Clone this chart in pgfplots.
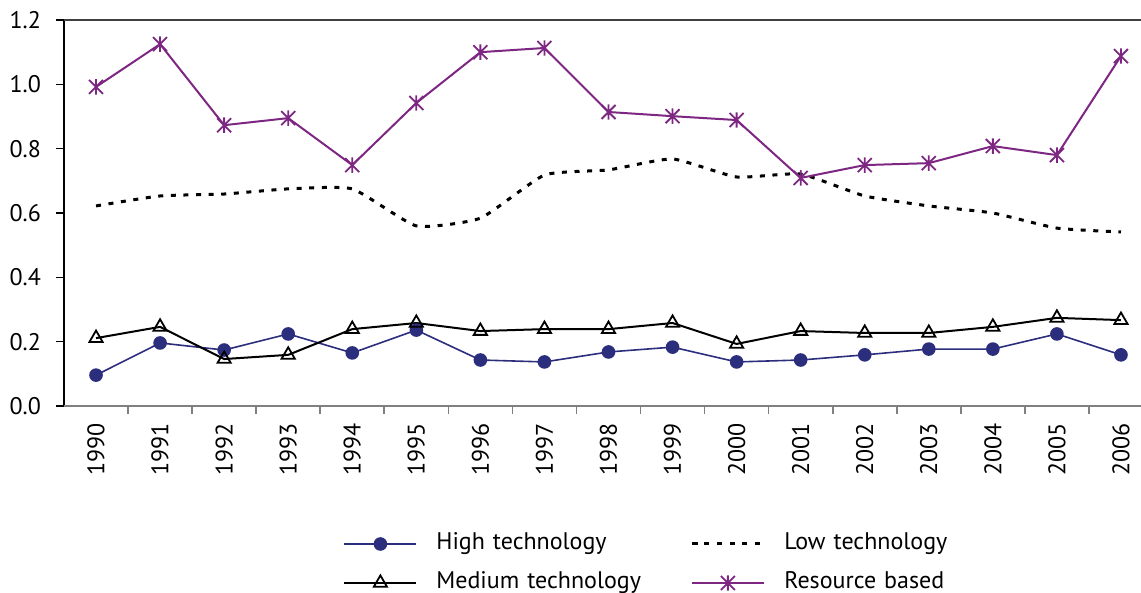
\documentclass[border=0pt]{standalone}
\usepackage{pgfplots}
\pgfplotsset{compat=1.18}
\usepackage{fontspec}
\setmainfont{PT Sans}
\definecolor{navy}{RGB}{43,45,125}
\definecolor{purp}{RGB}{125,38,130}
\pgfdeclareplotmark{xstar}{%
 \pgfpathmoveto{\pgfqpoint{0pt}{1.1\pgfplotmarksize}}%
 \pgfpathlineto{\pgfqpoint{0pt}{-1.1\pgfplotmarksize}}%
 \pgfpathmoveto{\pgfqpoint{-\pgfplotmarksize}{\pgfplotmarksize}}%
 \pgfpathlineto{\pgfqpoint{\pgfplotmarksize}{-\pgfplotmarksize}}%
 \pgfpathmoveto{\pgfqpoint{-\pgfplotmarksize}{-\pgfplotmarksize}}%
 \pgfpathlineto{\pgfqpoint{\pgfplotmarksize}{\pgfplotmarksize}}%
 \pgfusepathqstroke}
\begin{document}
\begin{tikzpicture}
\path[use as bounding box] (0,0) rectangle (570.5pt,-296.5pt);
\begin{axis}[
 at={(32pt,-203pt)}, anchor=south west,
 scale only axis, width=544.5pt, height=193pt,
 xmin=-0.5, xmax=16.5, ymin=0, ymax=1.2,
 axis line style={draw=none},
 /pgf/number format/assume math mode=true,
 ticklabel style={font=\fontsize{12}{14}\selectfont},
 ytick={0,0.2,0.4,0.6,0.8,1.0,1.2},
 yticklabel style={/pgf/number format/.cd,fixed,fixed zerofill,precision=1,/tikz/.cd, xshift=-4pt},
 ytick pos=left, xtick pos=bottom,
 xtick={0,...,16},
 xticklabels={1990,1991,1992,1993,1994,1995,1996,1997,1998,1999,2000,2001,2002,2003,2004,2005,2006},
 xticklabel style={rotate=90, anchor=east, xshift=-1pt},
 major x tick style={draw=none},
 minor xtick={0.5,1.5,...,15.5},
 minor x tick style={draw=gray, line width=0.8pt},
 tick align=outside, major tick length=4pt, minor tick length=4pt,
 y tick style={black, line width=0.6pt},
 legend columns=2,
 legend cell align=left,
 legend image code/.code={\draw[mark repeat=2,mark phase=2,#1] plot coordinates {(0pt,0pt) (18pt,0pt) (36pt,0pt)};},
 legend style={draw=none, fill=none, inner sep=0pt, at={(rel axis cs:0.2562,-0.408)}, anchor=west,
   nodes={inner sep=0pt, text height=9pt, text depth=3pt, anchor=west, text width=127pt, font=\fontsize{12}{14}\selectfont},
   row sep=7.5pt,
   /tikz/every odd column/.append style={column sep=9.5pt}},
 after end axis/.code={
   \draw[black,line width=0.7pt] (rel axis cs:0,0) -- (rel axis cs:0,1);
   \draw[black!75,line width=0.7pt] (rel axis cs:0,1) -- (rel axis cs:1,1);
   \draw[gray,line width=0.8pt] (rel axis cs:0,0) -- (rel axis cs:1,0);
 },
]
\addplot[navy, line width=0.8pt, mark=*, mark size=3pt, mark options={fill=navy, draw=navy}] coordinates {
(0,0.096) (1,0.196) (2,0.174) (3,0.224) (4,0.165) (5,0.236) (6,0.143) (7,0.137) (8,0.168) (9,0.183) (10,0.137) (11,0.143) (12,0.159) (13,0.177) (14,0.177) (15,0.224) (16,0.159)};
\addlegendentry{High technology}
\addplot[black, line width=1.5pt, smooth, tension=0.3, dash pattern=on 2.5pt off 3.8pt] coordinates {
(0,0.622) (1,0.653) (2,0.659) (3,0.675) (4,0.675) (5,0.560) (6,0.584) (7,0.718) (8,0.734) (9,0.768) (10,0.712) (11,0.721) (12,0.653) (13,0.622) (14,0.600) (15,0.553) (16,0.541)};
\addlegendentry{Low technology}
\addplot[black, line width=1pt, mark=triangle, mark size=3.8pt, mark options={fill=white, draw=black, line width=0.9pt, solid}] coordinates {
(0,0.211) (1,0.246) (2,0.146) (3,0.159) (4,0.239) (5,0.258) (6,0.233) (7,0.239) (8,0.239) (9,0.258) (10,0.193) (11,0.233) (12,0.227) (13,0.227) (14,0.246) (15,0.274) (16,0.267)};
\addlegendentry{Medium technology}
\addplot[purp, line width=1pt, mark=xstar, mark size=3.5pt, mark options={line width=0.9pt}] coordinates {
(0,0.992) (1,1.125) (2,0.873) (3,0.895) (4,0.749) (5,0.942) (6,1.100) (7,1.113) (8,0.914) (9,0.901) (10,0.889) (11,0.709) (12,0.749) (13,0.755) (14,0.808) (15,0.780) (16,1.088)};
\addlegendentry{Resource based}
\end{axis}
\end{tikzpicture}
\end{document}
